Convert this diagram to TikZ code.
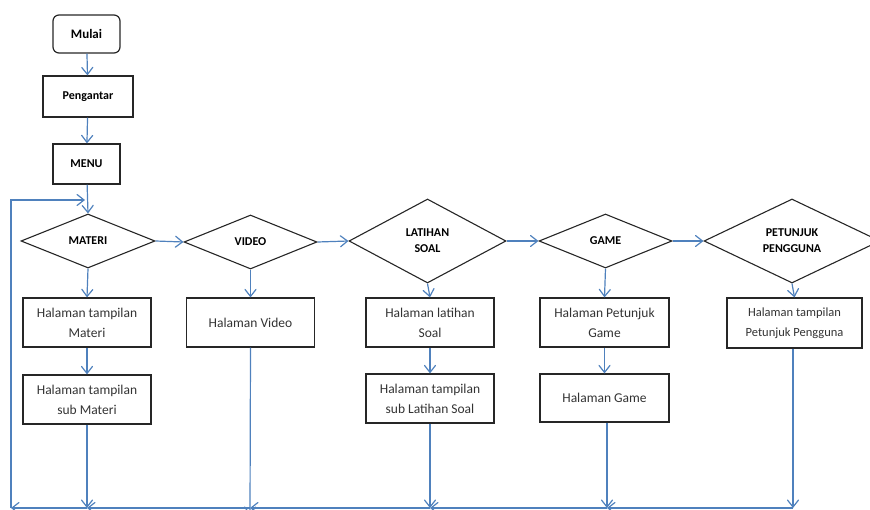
\documentclass[tikz,border=0pt]{standalone}
\usepackage{fontspec}
\setmainfont{Carlito}
\usetikzlibrary{shapes.geometric,arrows.meta}
\definecolor{flowblue}{HTML}{4F81BD}
\tikzset{
  stepbox/.style={draw=black!85, line width=1.2pt, rectangle, minimum width=128pt, minimum height=49pt, align=center, font=\fontsize{13.5}{20}\selectfont, text=black!80, inner sep=2pt},
  startbox/.style={draw=black!85, line width=1.2pt, rectangle, rounded corners=6pt, minimum width=67pt, minimum height=38pt, font=\bfseries\fontsize{13}{15}\selectfont},
  plainbox/.style={draw=black!85, line width=1.2pt, rectangle, minimum height=41pt, font=\bfseries\fontsize{12}{15}\selectfont},
  choice/.style={draw=black!85, line width=1.1pt, diamond, inner sep=0pt, align=center, font=\bfseries\fontsize{12}{16}\selectfont},
  flowtip/.tip={Straight Barb[length=7pt,width=11pt,line width=1.2pt,line cap=round]},
  flow/.style={draw=flowblue, line width=1.2pt, -flowtip},
  link/.style={draw=flowblue, line width=1.2pt}
}
\begin{document}
\begin{tikzpicture}[x=1pt,y=-1pt]
\useasboundingbox (0,0) rectangle (870,510);
% top column
\node[startbox] (mulai) at (86.5,34) {Mulai};
\node[plainbox, minimum width=90pt] (peng) at (88,96.5) {Pengantar};
\node[plainbox, minimum width=67pt, minimum height=40pt] (menu) at (86.5,164) {MENU};
% diamonds
\node[choice, minimum width=134pt, minimum height=54pt] (materi) at (88,241) {MATERI};
\node[choice, minimum width=133pt, minimum height=54pt] (video) at (250.5,242) {VIDEO};
\node[choice, minimum width=157pt, minimum height=84pt] (latihan) at (427.5,241) {LATIHAN\\SOAL};
\node[choice, minimum width=133pt, minimum height=54pt] (game) at (605.5,241) {GAME};
\node[choice, minimum width=176pt, minimum height=84pt] (petunjuk) at (792,241) {PETUNJUK\\PENGGUNA};
% boxes
\node[stepbox] (hmateri) at (87,322.5) {Halaman tampilan\\Materi};
\node[stepbox] (hsubmateri) at (87,399.5) {Halaman tampilan\\sub Materi};
\node[stepbox] (hvideo) at (250.5,322.5) {Halaman Video};
\node[stepbox] (hlatihan) at (430,322.5) {Halaman latihan\\Soal};
\node[stepbox] (hsublatihan) at (430,398.5) {Halaman tampilan\\sub Latihan Soal};
\node[stepbox, minimum width=129pt] (hpetgame) at (604.5,322.5) {Halaman Petunjuk\\Game};
\node[stepbox, minimum width=129pt, minimum height=48pt] (hgame) at (604.5,398) {Halaman Game};
\node[stepbox, minimum width=135pt, minimum height=50pt, font=\fontsize{12.5}{20}\selectfont] (hpeng) at (794.5,323) {Halaman tampilan\\Petunjuk Pengguna};
% bottom junctions
\coordinate (b0) at (11,508);
\coordinate (b1) at (87,508);
\coordinate (b2) at (250,508);
\coordinate (b3) at (430,508);
\coordinate (b4) at (607,508);
\coordinate (b5) at (793,508);
\coordinate (looptop) at (11,200);
\coordinate (loopend) at (85,200);
% top flow
\draw[flow] (mulai) -- (peng);
\draw[flow] (peng) -- (menu);
\draw[flow] (menu) -- (materi.north);
% horizontal diamonds
\draw[flow] (materi.east) -- (video.west);
\draw[flow] (video.east) -- (latihan.west);
\draw[flow] (latihan.east) -- (game.west);
\draw[flow] (game.east) -- (petunjuk.west);
% down
\draw[flow] (materi.south) -- (hmateri.north);
\draw[flow] (hmateri) -- (hsubmateri);
\draw[flow] (video.south) -- (hvideo.north);
\draw[flow] (latihan.south) -- (hlatihan.north);
\draw[flow] (hlatihan) -- (hsublatihan);
\draw[flow] (game.south) -- (hpetgame.north);
\draw[flow] (hpetgame) -- (hgame);
\draw[flow] (petunjuk.south) -- (hpeng.north);
% to bottom
\draw[flow] (hsubmateri.south) -- (b1);
\draw[flow] (hvideo.south) -- ([yshift=-7pt]b2);
\draw[flow] (hsublatihan.south) -- (b3);
\draw[flow] (hgame.south -| b4) -- (b4);
\draw[flow] (hpeng.south -| b5) -- (b5);
% bottom line
\draw[flow] (b5) -- (b4);
\draw[flow] (b4) -- (b3);
\draw[flow] (b3) -- (b2);
\draw[flow] (b2) -- (b1);
\draw[flow] (b1) -- (b0);
\draw[flow] (b0) -- (looptop) -- (loopend);
\end{tikzpicture}
\end{document}
